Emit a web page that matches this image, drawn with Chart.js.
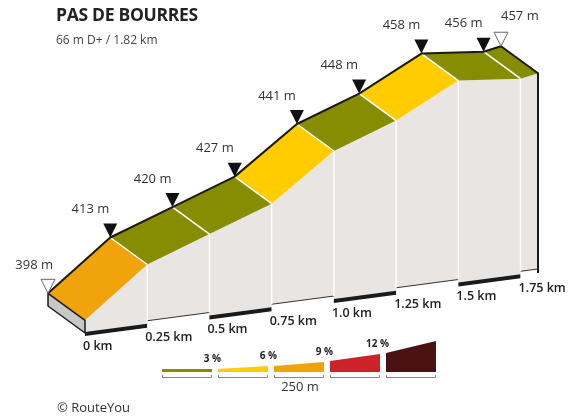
<!DOCTYPE html>
<html>
<head>
<meta charset="utf-8">
<script src="https://cdn.jsdelivr.net/npm/chart.js@4.4.1/dist/chart.umd.min.js"></script>
<style>
  body { margin: 0; background: #fff; }
  #wrap { position: relative; width: 571px; height: 416px; font-family: "Open Sans", sans-serif; }
  #profile { position: absolute; left: 0; top: 0; }
  .title { position: absolute; left: 56px; top: 2px; font-size: 17.5px; font-weight: 700; color: #222; letter-spacing: -0.3px; }
  .sub { position: absolute; left: 56px; top: 31px; font-size: 12px; color: #444; }
  .copy { position: absolute; left: 57px; top: 398px; font-size: 13px; color: #333; }
</style>
</head>
<body>
<div id="wrap">
  <canvas id="profile" width="571" height="416"></canvas>
  <div class="title">PAS DE BOURRES</div>
  <div class="sub">66 m D+ / 1.82 km</div>
  <div class="copy">© RouteYou</div>
</div>
<script>
// 거리(km) / 고도(m)
const distKm = [0, 0.25, 0.5, 0.75, 1.0, 1.25, 1.5, 1.75, 1.82];
const elevM = [398, 413, 420, 427, 441, 448, 458, 456, 457];

// x축 눈금
const tickKm = [0, 0.25, 0.5, 0.75, 1.0, 1.25, 1.5, 1.75];
const tickLabels = ['0 km', '0.25 km', '0.5 km', '0.75 km', '1.0 km', '1.25 km', '1.5 km', '1.75 km'];

// 경사 구간 (%)
const gradeSteps = [3, 6, 9, 12];
const gradeColors = ['#878d00', '#ffcc00', '#f0a30a', '#cc2229', '#4a1212'];

// 3D 느낌 (비스듬한 투영)
const SHEAR = 0.1325;   // 바닥선 기울기
const DX = 37, DY = 27; // 앞면 -> 뒷면 오프셋

function gradeColor(g) {
    let idx = 0;
    while (idx < gradeSteps.length && g + 1e-9 >= gradeSteps[idx]) idx++;
    return gradeColors[idx];
}

function elevAt(d) {
    for (let i = 0; i < distKm.length - 1; i++) {
        if (d >= distKm[i] && d <= distKm[i + 1]) {
            const t = (d - distKm[i]) / (distKm[i + 1] - distKm[i]);
            return elevM[i] + t * (elevM[i + 1] - elevM[i]);
        }
    }
    return elevM[elevM.length - 1];
}

const profilePlugin = {
    id: 'profile3d',
    afterDatasetsDraw(chart) {
        const ctx = chart.ctx;
        const xs = chart.scales.x, ys = chart.scales.y;
        const x0 = chart.chartArea.left;
        const baseE = ys.min;
        const n = distKm.length;
        const endKm = distKm[n - 1];

        function front(d, e) {
            const px = xs.getPixelForValue(d);
            return [px, ys.getPixelForValue(e) - (px - x0) * SHEAR];
        }
        function back(d, e) {
            const p = front(d, e);
            return [p[0] - DX, p[1] - DY];
        }
        function poly(pts) {
            ctx.beginPath();
            pts.forEach((p, i) => i ? ctx.lineTo(p[0], p[1]) : ctx.moveTo(p[0], p[1]));
        }

        ctx.save();
        ctx.lineJoin = 'round';

        // 앞면
        const frontTop = distKm.map((d, i) => front(d, elevM[i]));
        poly(frontTop.concat([front(endKm, baseE), front(0, baseE)]));
        ctx.closePath();
        ctx.fillStyle = '#e8e5e2';
        ctx.fill();

        // 바닥 계단 (홀수 구간은 살짝 위로)
        for (let i = 0; i < tickKm.length; i++) {
            const a = front(tickKm[i], baseE), b = front(tickKm[i + 1] || endKm, baseE);
            if (i % 2 === 0) {
                poly([[a[0], a[1] - 1], [b[0], b[1] - 1], [b[0], b[1] + 3], [a[0], a[1] + 3]]);
                ctx.closePath();
                ctx.fillStyle = '#1a1a1a';
                ctx.fill();
            } else {
                poly([[a[0], a[1] - 4], [b[0], b[1] - 4], [b[0], b[1] + 3], [a[0], a[1] + 3]]);
                ctx.closePath();
                ctx.fillStyle = '#ffffff';
                ctx.fill();
                ctx.strokeStyle = '#333';
                ctx.lineWidth = 1;
                poly([[a[0], a[1] - 4], [b[0], b[1] - 4]]);
                ctx.stroke();
            }
        }

        // 앞면 흰색 세로선
        ctx.strokeStyle = '#ffffff';
        ctx.lineWidth = 1.5;
        tickKm.slice(1).forEach(d => {
            const a = front(d, elevAt(d)), b = front(d, baseE);
            poly([a, [b[0], b[1] - 4]]);
            ctx.stroke();
        });

        // 윗면 (경사 색상)
        for (let i = 0; i < n - 1; i++) {
            const g = (elevM[i + 1] - elevM[i]) / ((distKm[i + 1] - distKm[i]) * 1000) * 100;
            poly([back(distKm[i], elevM[i]), back(distKm[i + 1], elevM[i + 1]),
                  front(distKm[i + 1], elevM[i + 1]), front(distKm[i], elevM[i])]);
            ctx.closePath();
            ctx.fillStyle = gradeColor(g);
            ctx.fill();
        }
        ctx.strokeStyle = '#ffffff';
        ctx.lineWidth = 1.5;
        for (let i = 1; i < n - 1; i++) {
            poly([back(distKm[i], elevM[i]), front(distKm[i], elevM[i])]);
            ctx.stroke();
        }

        // 왼쪽 옆면
        poly([back(0, baseE), back(0, elevM[0]), front(0, elevM[0]), front(0, baseE)]);
        ctx.closePath();
        ctx.fillStyle = '#c8c8c8';
        ctx.fill();
        ctx.strokeStyle = '#1a1a1a';
        ctx.lineWidth = 1.5;
        ctx.stroke();

        // 능선 + 오른쪽 모서리
        ctx.strokeStyle = '#1a1a1a';
        ctx.lineWidth = 2;
        poly(distKm.map((d, i) => back(d, elevM[i])).concat([front(endKm, elevM[n - 1]), front(endKm, baseE)]));
        ctx.stroke();

        // 삼각형 마커 + 고도 라벨
        ctx.font = '13px "Open Sans"';
        ctx.textBaseline = 'middle';
        distKm.forEach((d, i) => {
            const p = back(d, elevM[i]);
            const open = (i === 0 || i === n - 1);
            poly([p, [p[0] - 7, p[1] - 14], [p[0] + 7, p[1] - 14]]);
            ctx.closePath();
            if (open) {
                ctx.fillStyle = '#ffffff';
                ctx.fill();
                ctx.strokeStyle = '#666';
                ctx.lineWidth = 1;
                ctx.stroke();
            } else {
                ctx.fillStyle = '#111';
                ctx.fill();
            }
            ctx.fillStyle = '#333';
            if (i === n - 1) {
                ctx.textAlign = 'left';
                ctx.fillText(elevM[i] + ' m', p[0], p[1] - 30);
            } else {
                ctx.textAlign = 'right';
                ctx.fillText(elevM[i] + ' m', p[0] + (i === 0 ? 5 : -1), p[1] - 28);
            }
        });

        // x축 라벨
        ctx.font = '600 12.5px "Open Sans"';
        ctx.fillStyle = '#222';
        ctx.textAlign = 'left';
        tickKm.forEach((d, i) => {
            const p = front(d, baseE);
            ctx.fillText(tickLabels[i], p[0] - 2, p[1] + 13);
        });

        ctx.restore();
    },
    afterDraw(chart) {
        // 경사 범례
        const ctx = chart.ctx;
        const lx = 162, bw = 50, gap = 6, by = 372;
        const hts = [[3, 3], [3, 6], [6, 10], [11, 18], [19, 31]];
        ctx.save();
        gradeColors.forEach((c, i) => {
            const x = lx + i * (bw + gap);
            ctx.beginPath();
            ctx.moveTo(x, by);
            ctx.lineTo(x, by - hts[i][0]);
            ctx.lineTo(x + bw, by - hts[i][1]);
            ctx.lineTo(x + bw, by);
            ctx.closePath();
            ctx.fillStyle = c;
            ctx.fill();
            // 눈금 브래킷
            ctx.strokeStyle = '#888';
            ctx.lineWidth = 1;
            ctx.beginPath();
            ctx.moveTo(x + 0.5, by + 3);
            ctx.lineTo(x + 0.5, by + 5.5);
            ctx.lineTo(x + bw - 0.5, by + 5.5);
            ctx.lineTo(x + bw - 0.5, by + 3);
            ctx.stroke();
        });
        ctx.font = 'bold 10px "Open Sans"';
        ctx.fillStyle = '#222';
        ctx.textAlign = 'right';
        ctx.textBaseline = 'middle';
        gradeSteps.forEach((s, i) => {
            const x = lx + (i + 1) * (bw + gap) + 3;
            ctx.fillText(s + ' %', x, by - hts[i][1] - 10);
        });
        ctx.font = '13px "Open Sans"';
        ctx.fillStyle = '#333';
        ctx.textAlign = 'center';
        ctx.fillText('250 m', lx + 2 * (bw + gap) + bw / 2 + 1, by + 15);
        ctx.restore();
    }
};

new Chart(document.getElementById('profile'), {
    type: 'line',
    data: {
        datasets: [{
            data: distKm.map((d, i) => ({ x: d, y: elevM[i] })),
            showLine: false,
            pointRadius: 0
        }]
    },
    options: {
        responsive: false,
        animation: false,
        events: [],
        layout: { padding: { left: 85, right: 33, top: 21, bottom: 83 } },
        plugins: { legend: { display: false }, tooltip: { enabled: false } },
        scales: {
            x: { type: 'linear', display: false, min: 0, max: 1.82 },
            y: { display: false, min: 394, max: 492.4 }
        }
    },
    plugins: [profilePlugin]
});
</script>
</body>
</html>
